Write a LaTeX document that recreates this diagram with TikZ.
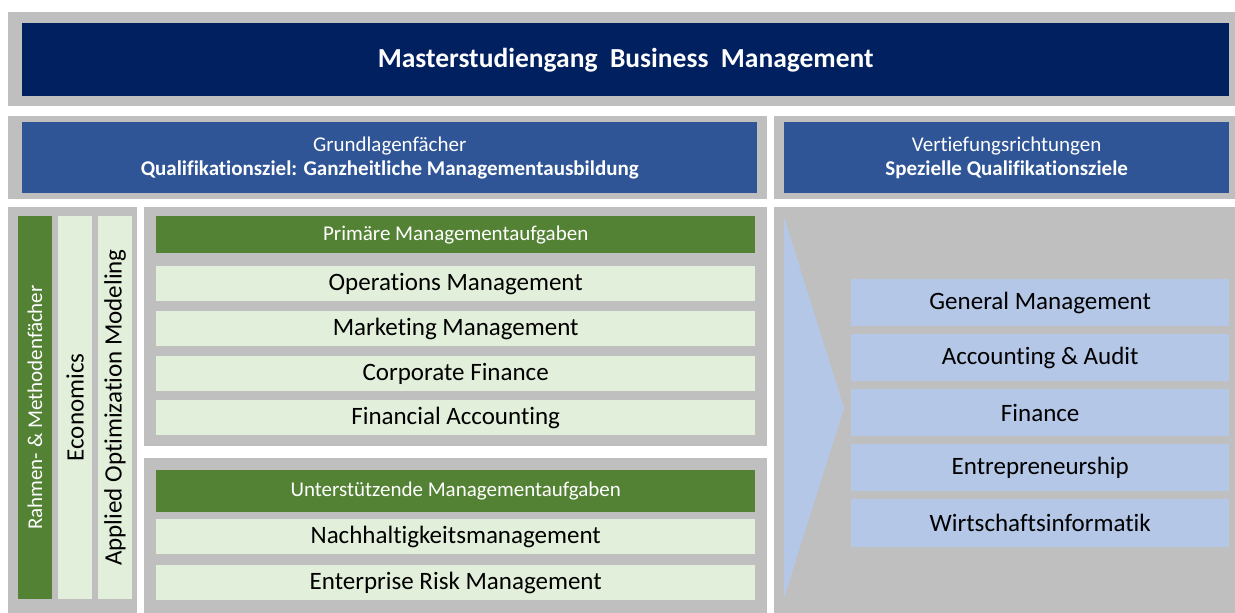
\documentclass[tikz,border=0pt]{standalone}
\usepackage{fontspec}
\setmainfont{Carlito}[Ligatures=NoCommon]
\definecolor{navy}{HTML}{002060}
\definecolor{headblue}{HTML}{2F5597}
\definecolor{framegray}{HTML}{BFBFBF}
\definecolor{darkgreen}{HTML}{548235}
\definecolor{lightgreen}{HTML}{E2EFDA}
\definecolor{lightblue}{HTML}{B4C7E7}
\tikzset{
  cell/.style 2 args={minimum width=#1pt, minimum height=#2pt, inner sep=0pt, anchor=north west},
  small/.style={font=\fontsize{21}{24}\selectfont},
  large/.style={font=\fontsize{25}{28}\selectfont}
}
\begin{document}
\begin{tikzpicture}[x=1pt, y=-1pt]
      \useasboundingbox (0,0) rectangle (1235,613);

      \begin{scope}[every node/.style={fill=framegray}]
        \node[cell={1227}{94}]  (top)   at (8,12)    {};
        \node[cell={759}{83}]   (grund) at (8,116)   {};
        \node[cell={461}{83}]   (vert)  at (774,116) {};
        \node[cell={129}{406}]  (left)  at (8,207)   {};
        \node[cell={623}{239}]  (prim)  at (144,207) {};
        \node[cell={623}{155}]  (supp)  at (144,458) {};
        \node[cell={461}{406}]  (right) at (774,207) {};
      \end{scope}

      \node[cell={1207}{73}, fill=navy, text=white, font=\fontsize{27.5}{30}\selectfont\bfseries]
        (title) at (22,23) {Masterstudiengang\ \ Business\ \ Management};

      \begin{scope}[every node/.style={fill=headblue, text=white, small, align=center}]
        \node[cell={735}{71}] (grundhead) at (22,122)  {Grundlagenfächer\\\textbf{Qualifikationsziel: Ganzheitliche Managementausbildung}};
        \node[cell={445}{71}] (verthead)  at (784,122) {Vertiefungsrichtungen\\\textbf{Spezielle Qualifikationsziele}};
      \end{scope}

      \begin{scope}[every node/.style={rotate=90, minimum width=383pt, minimum height=34pt, inner sep=0pt}]
        \node[fill=darkgreen, text=white, small] (rahmen) at (35,407.5)  {Rahmen- \& Methodenfächer};
        \node[fill=lightgreen, large]            (econ)   at (75,407.5)  {Economics};
        \node[fill=lightgreen, large]            (aom)    at (115,407.5) {Applied Optimization Modeling};
      \end{scope}

      \begin{scope}[every node/.style={fill=darkgreen, text=white, small}]
        \node[cell={599}{37}] (primhead) at (156,216) {Primäre Managementaufgaben};
        \node[cell={599}{42}] (supphead) at (156,470) {Unterstützende Managementaufgaben};
      \end{scope}

      \begin{scope}[every node/.style={fill=lightgreen, large}]
        \node[cell={599}{35}] (1) at (156,266) {Operations Management};
        \node[cell={599}{35}] (2) at (156,311) {Marketing Management};
        \node[cell={599}{35}] (3) at (156,356) {Corporate Finance};
        \node[cell={599}{35}] (4) at (156,400) {Financial Accounting};
        \node[cell={599}{35}] (5) at (156,519) {Nachhaltigkeitsmanagement};
        \node[cell={599}{35}] (6) at (156,565) {Enterprise Risk Management};
      \end{scope}

      \fill[lightblue] (784,217) -- (844,408) -- (784,598) -- cycle;

      \begin{scope}[every node/.style={fill=lightblue, large}]
        \node[cell={378}{47}] (7)  at (851,279) {General Management};
        \node[cell={378}{47}] (8)  at (851,334) {Accounting \& Audit};
        \node[cell={378}{47}] (9)  at (851,389) {Finance};
        \node[cell={378}{47}] (10) at (851,444) {Entrepreneurship};
        \node[cell={378}{48}] (11) at (851,499) {Wirtschaftsinformatik};
      \end{scope}

    \end{tikzpicture}
\end{document}
